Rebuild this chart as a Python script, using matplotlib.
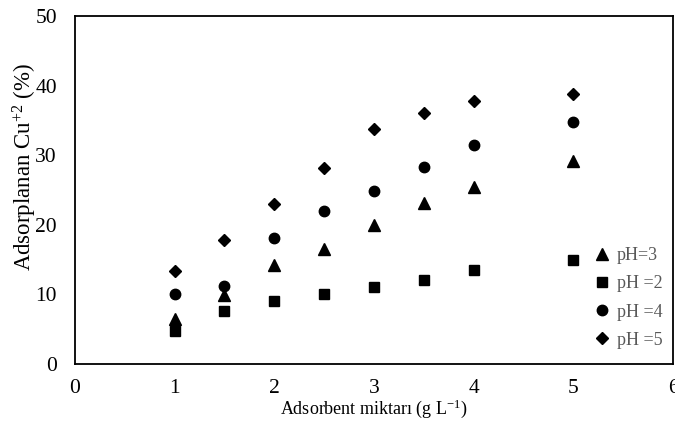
import matplotlib
matplotlib.use('Agg')
import matplotlib.pyplot as plt

plt.rcParams['font.family'] = ['Liberation Serif', 'DejaVu Serif']
plt.rcParams['mathtext.fontset'] = 'custom'
plt.rcParams['mathtext.rm'] = 'Liberation Serif'
plt.rcParams['mathtext.it'] = 'Liberation Serif:italic'

# Adsorbent dose (g/L)
dose = [1, 1.5, 2, 2.5, 3, 3.5, 4, 5]

# Adsorbed Cu+2 (%) per pH
ph3 = [6.5, 9.9, 14.2, 16.5, 19.9, 23.2, 25.5, 29.1]
ph2 = [4.7, 7.6, 9.1, 10.1, 11.1, 12.1, 13.5, 15.0]
ph4 = [10.1, 11.2, 18.1, 22.0, 24.9, 28.3, 31.5, 34.8]
ph5 = [13.4, 17.8, 23.0, 28.1, 33.7, 36.1, 37.8, 38.8]

fig = plt.figure(figsize=(6.75, 4.26), dpi=100)
ax = fig.add_axes([75 / 675, 62 / 426, 598 / 675, 348 / 426])

ax.plot(dose, ph3, linestyle='none', marker='^', markersize=8, color='black', label='pH=3')
ax.plot(dose, ph2, linestyle='none', marker='s', markersize=7, color='black', label='pH =2')
ax.plot(dose, ph4, linestyle='none', marker='o', markersize=7.5, color='black', label='pH =4')
ax.plot(dose, ph5, linestyle='none', marker='D', markersize=6.3, color='black', label='pH =5')

ax.set_xlim(0, 6)
ax.set_ylim(0, 50)
ax.set_xticks(range(0, 7))
ax.set_yticks(range(0, 51, 10))
ax.tick_params(axis='both', length=0, labelsize=15.5)
ax.tick_params(axis='x', pad=11)
ax.tick_params(axis='y', pad=13)
for s in ax.spines.values():
    s.set_linewidth(1.3)

# y title sits higher than centre in the original, so place it by hand
fig.text(25 / 675, 1 - 167 / 426, 'Adsorplanan Cu$^{+2}$ (%)', rotation=90,
         ha='center', va='center', fontsize=16.5)
fig.text(374 / 675, 1 - 409 / 426, 'Adsorbent miktarı (g L$^{-1}$)',
         ha='center', va='center', fontsize=13)

leg = ax.legend(loc='center left', bbox_to_anchor=(596 / 675, 1 - 298 / 426),
                bbox_transform=fig.transFigure, frameon=False, fontsize=13,
                handlelength=0.7, handletextpad=0.45, labelspacing=0.62,
                borderpad=0, borderaxespad=0)
for t in leg.get_texts():
    t.set_color('#595959')

plt.savefig('out.png')
